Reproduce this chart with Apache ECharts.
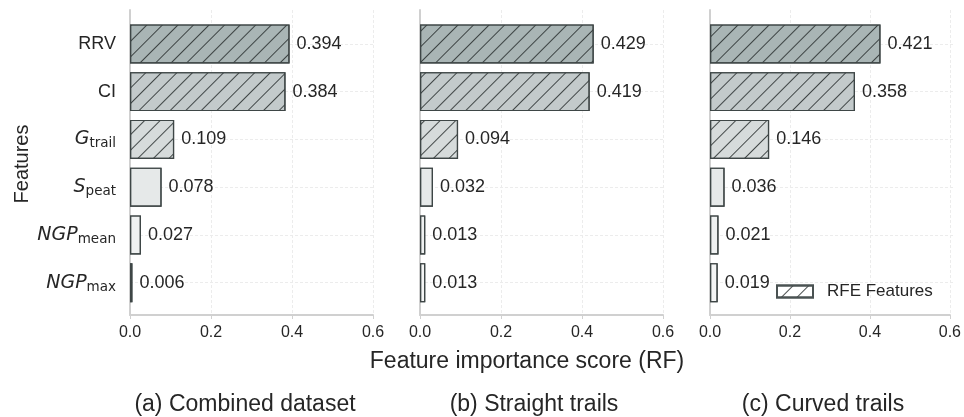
<!DOCTYPE html>
<html>
<head>
<meta charset="utf-8">
<script src="https://cdn.jsdelivr.net/npm/echarts@6/dist/echarts.min.js"></script>
<style>
  html, body { margin: 0; padding: 0; background: #fff; }
  #chart { width: 964px; height: 417px; }
</style>
</head>
<body>
<div id="chart"></div>
<script>
// Feature importance (random forest) for three trail datasets
const features = ['RRV', 'CI', 'G_trail', 'S_peat', 'NGP_mean', 'NGP_max'];
const combinedScores = [0.394, 0.384, 0.109, 0.078, 0.027, 0.006];
const straightScores = [0.429, 0.419, 0.094, 0.032, 0.013, 0.013];
const curvedScores = [0.421, 0.358, 0.146, 0.036, 0.021, 0.019];
const rfeFeatures = ['RRV', 'CI', 'G_trail'];
const panelTitles = ['(a) Combined dataset', '(b) Straight trails', '(c) Curved trails'];
const xMin = 0, xMax = 0.6, xStep = 0.2;
const legendLabel = 'RFE Features';
const xAxisTitle = 'Feature importance score (RF)';
const yAxisTitle = 'Features';

const FONT = "'Liberation Sans', Arial, sans-serif";
const MATH = "'DejaVu Sans', sans-serif";
const TEXT = '#262626';
const barFills = ['#a9b5b5', '#c3cacb', '#d6dbdb', '#e6e9e9', '#eff1f1', '#f4f5f5'];
const hatch = {
  symbol: 'rect',
  symbolSize: 1,
  dashArrayX: [1, 0],
  dashArrayY: [0.9, 9.8],
  rotation: -Math.PI / 4,
  color: 'rgba(40,46,46,0.85)'
};

const panels = [combinedScores, straightScores, curvedScores];
const lefts = [130, 420, 710];
const plotW = 243;

const grids = [], xAxes = [], yAxes = [], series = [];

panels.forEach((scores, p) => {
  // outer frame grid: spines, x ticks, vertical grid lines
  grids.push({ left: lefts[p], width: plotW, top: 10, height: 305 });
  // inner grid: category bands for the bars
  grids.push({ left: lefts[p], width: plotW, top: 20, height: 286.5 });
  const gA = grids.length - 2, gB = grids.length - 1;

  xAxes.push({
    gridIndex: gA, type: 'value', min: xMin, max: xMax, interval: xStep,
    axisLine: { show: true, lineStyle: { color: '#d0d0d0', width: 2 } },
    axisTick: { show: true, length: 4, lineStyle: { color: '#d0d0d0', width: 1 } },
    axisLabel: { color: TEXT, fontSize: 16, fontFamily: FONT, margin: 10,
                 formatter: v => v.toFixed(1) },
    splitLine: { show: true, lineStyle: { color: '#ececec', width: 1, type: [3, 2] } }
  });
  yAxes.push({
    gridIndex: gA, type: 'value', min: 0, max: 1,
    axisLine: { show: true, onZero: false, lineStyle: { color: '#d0d0d0', width: 2 } },
    axisTick: { show: false }, axisLabel: { show: false }, splitLine: { show: false }
  });
  xAxes.push({ gridIndex: gB, type: 'value', min: xMin, max: xMax, show: false });
  yAxes.push({
    gridIndex: gB, type: 'category', data: features, inverse: true,
    axisLine: { show: false }, axisTick: { show: false }, splitLine: { show: false },
    axisLabel: {
      show: p === 0, margin: 14, align: 'right',
      formatter: name => {
        const parts = name.split('_');
        if (parts.length === 1) return '{rm|' + name + '}';
        return '{it|' + parts[0] + '}{sub|' + parts[1] + '}';
      },
      rich: {
        rm: { fontSize: 18, fontFamily: FONT, color: TEXT, lineHeight: 24, verticalAlign: 'middle' },
        it: { fontSize: 19, fontFamily: MATH, fontStyle: 'italic', color: TEXT, lineHeight: 24, verticalAlign: 'middle' },
        sub: { fontSize: 13.5, fontFamily: MATH, color: TEXT, lineHeight: 24, verticalAlign: 'middle', padding: [9, 0, 0, 0] }
      }
    }
  });

  const xi = xAxes.length - 1, yi = yAxes.length - 1;
  series.push({
    type: 'bar', name: 'panel' + p, xAxisIndex: xi, yAxisIndex: yi,
    barWidth: 39,
    data: scores.map((v, i) => ({
      value: v,
      itemStyle: {
        color: barFills[i],
        borderColor: '#3e4646', borderWidth: 1.2,
        decal: rfeFeatures.includes(features[i]) ? hatch : { symbol: 'none' }
      }
    })),
    label: {
      show: true, position: 'right', distance: 7,
      color: TEXT, fontSize: 18, fontFamily: FONT,
      formatter: d => d.value.toFixed(3)
    },
    markLine: {
      silent: true, symbol: ['none', 'none'], z: 1, animation: false,
      label: { show: false },
      lineStyle: { color: '#ececec', width: 1, type: [3, 2] },
      data: features.map(f => ({ yAxis: f }))
    },
    animation: false
  });
});

// legend entry for the recursive feature elimination set
series.push({
  type: 'bar', name: legendLabel, xAxisIndex: 4, yAxisIndex: 4, data: [],
  itemStyle: { color: '#ffffff', borderColor: '#4a5252', borderWidth: 1.5, decal: hatch }
});

const option = {
  backgroundColor: '#ffffff',
  animation: false,
  grid: grids, xAxis: xAxes, yAxis: yAxes, series: series,
  legend: {
    data: [legendLabel], left: 776, top: 283, padding: 0,
    icon: 'rect', itemWidth: 36, itemHeight: 12,
    textStyle: { color: TEXT, fontSize: 17, fontFamily: FONT, padding: [0, 0, 0, 9] }
  },
  graphic: [
    { type: 'text', x: 22, y: 164, rotation: Math.PI / 2,
      style: { text: yAxisTitle, fontSize: 20, fontFamily: FONT, fill: TEXT,
               align: 'center', verticalAlign: 'middle' } },
    { type: 'text', x: 527, y: 362,
      style: { text: xAxisTitle, fontSize: 23, fontFamily: FONT, fill: TEXT,
               align: 'center', verticalAlign: 'middle' } }
  ].concat(panelTitles.map((t, i) => ({
    type: 'text', x: [245, 534, 823][i], y: 405,
    style: { text: t, fontSize: 23, fontFamily: FONT, fill: TEXT, align: 'center', verticalAlign: 'middle' }
  })))
};

const chart = echarts.init(document.getElementById('chart'), null, { renderer: 'canvas' });
chart.setOption(option);
</script>
</body>
</html>
